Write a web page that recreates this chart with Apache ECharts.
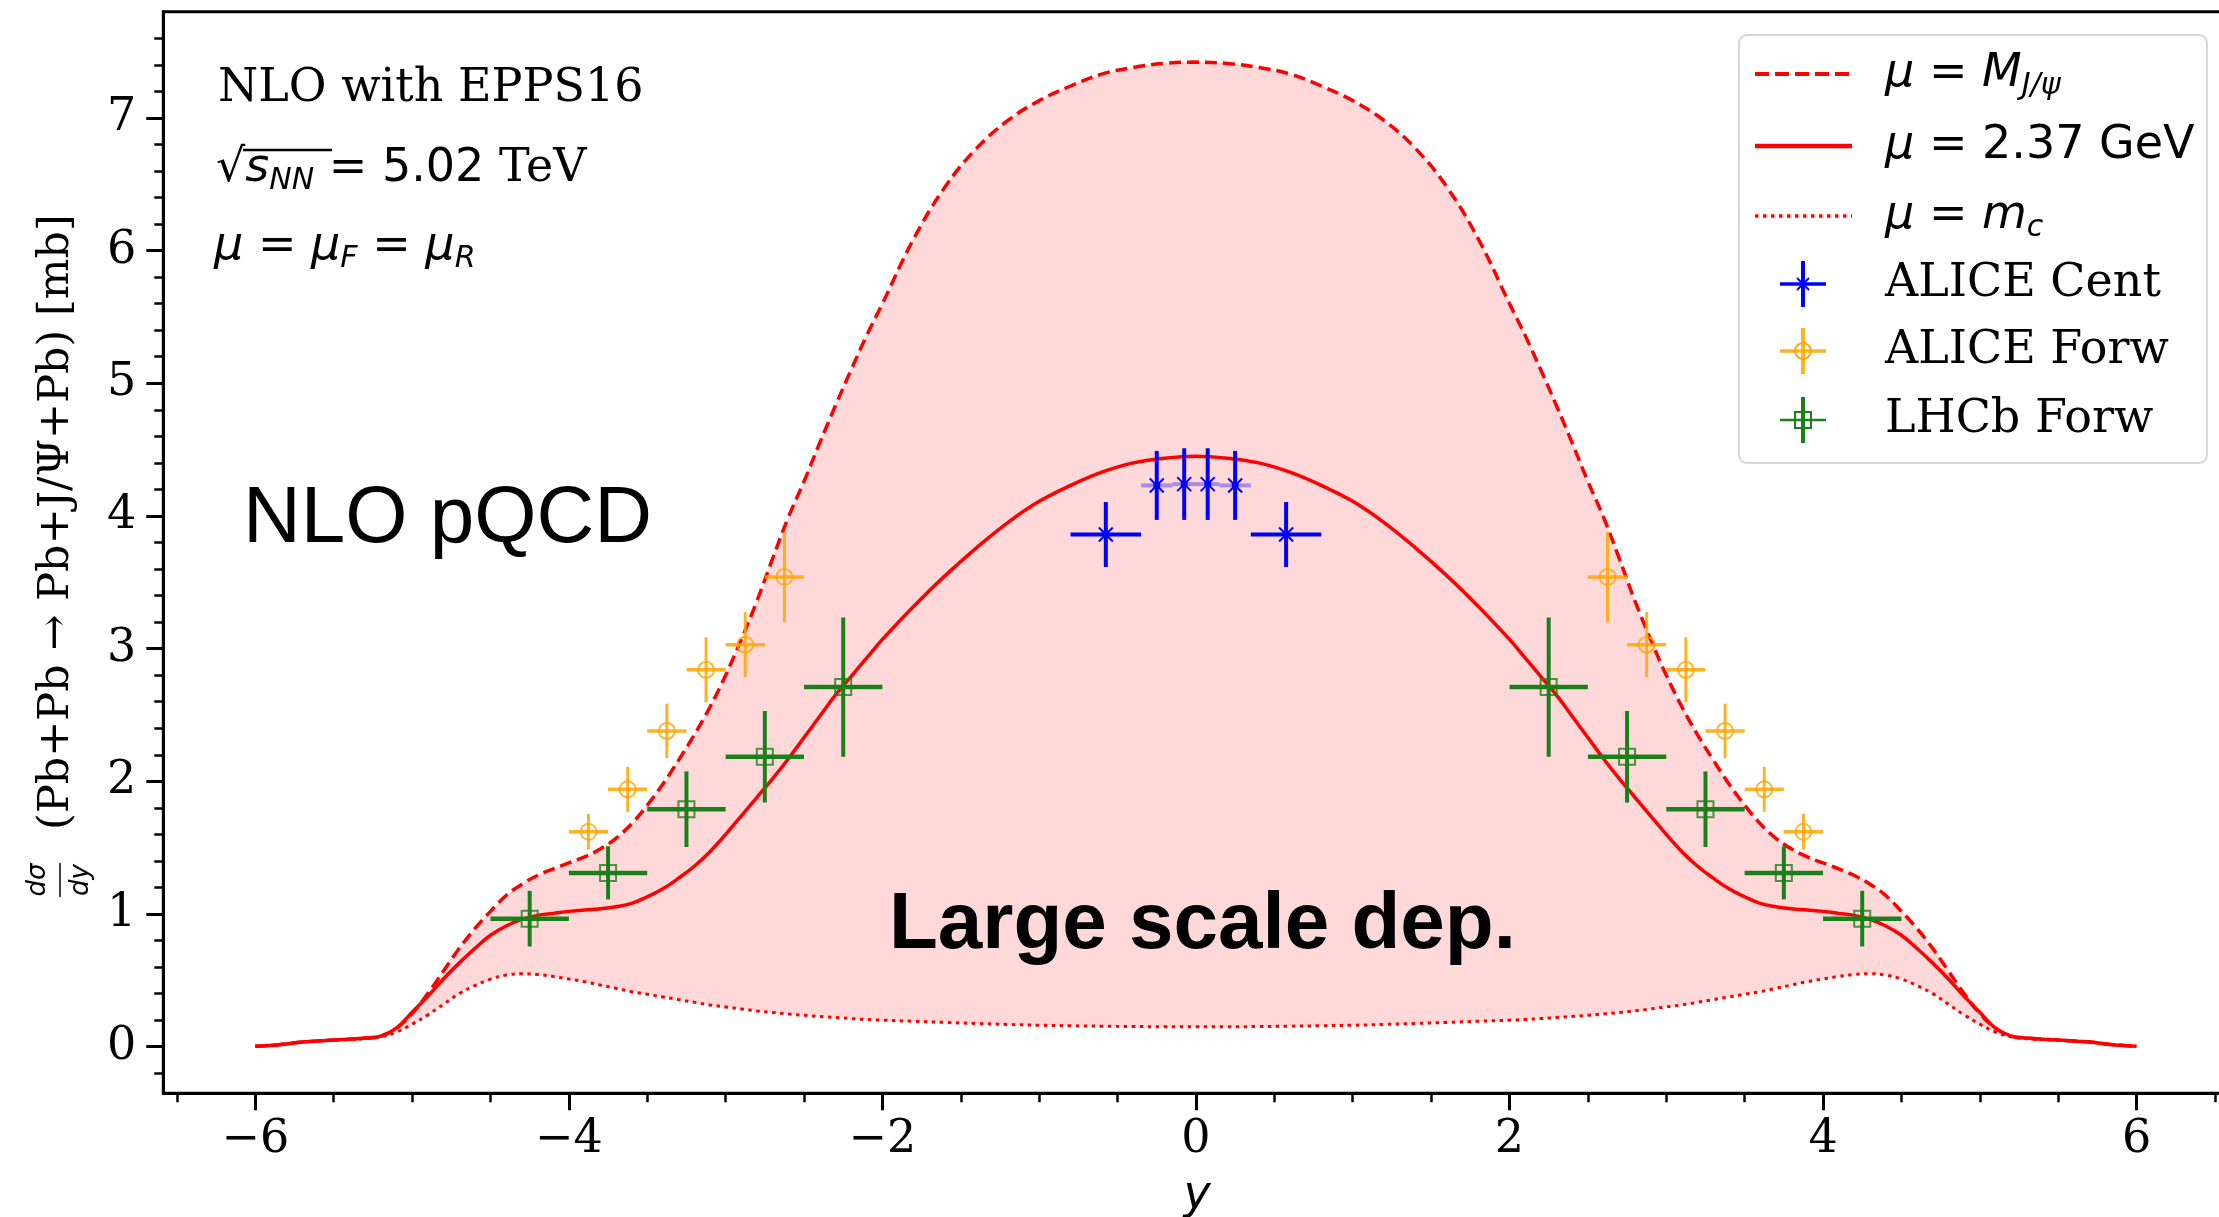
<!DOCTYPE html>
<html><head><meta charset="utf-8">
<script src="https://cdn.jsdelivr.net/npm/echarts@6/dist/echarts.min.js"></script>
<style>html,body{margin:0;padding:0;background:#fff}#c{width:2219px;height:1217px}</style>
</head><body><div id="c"></div>
<script>
// ---------- data ----------
const xGrid = [-6.0,-5.85,-5.7,-5.5,-5.3,-5.2,-5.1,-5.0,-4.9,-4.8,-4.7,-4.6,-4.5,-4.4,-4.3,-4.2,-4.1,-4.0,-3.9,-3.8,-3.7,-3.6,-3.5,-3.4,-3.3,-3.2,-3.1,-3.0,-2.9,-2.8,-2.7,-2.6,-2.5,-2.4,-2.3,-2.2,-2.1,-2.0,-1.8,-1.6,-1.4,-1.2,-1.0,-0.8,-0.6,-0.4,-0.2,0,0.2,0.4,0.6,0.8,1.0,1.2,1.4,1.6,1.8,2.0,2.1,2.2,2.3,2.4,2.5,2.6,2.7,2.8,2.9,3.0,3.1,3.2,3.3,3.4,3.5,3.6,3.7,3.8,3.9,4.0,4.1,4.2,4.3,4.4,4.5,4.6,4.7,4.8,4.9,5.0,5.1,5.2,5.3,5.5,5.7,5.85,6.0];
// mu = M_J/psi (dashed, upper)
const muMJpsi = [0.003,0.015,0.035,0.05,0.065,0.08,0.14,0.25,0.40,0.57,0.74,0.89,1.02,1.14,1.225,1.29,1.34,1.385,1.43,1.49,1.57,1.68,1.82,1.98,2.16,2.35,2.56,2.80,3.07,3.36,3.68,3.99,4.26,4.55,4.83,5.10,5.36,5.60,6.09,6.48,6.77,6.98,7.13,7.24,7.33,7.38,7.41,7.42,7.41,7.38,7.33,7.24,7.13,6.98,6.77,6.48,6.09,5.60,5.36,5.10,4.83,4.55,4.26,3.99,3.68,3.36,3.07,2.80,2.56,2.35,2.16,1.98,1.82,1.68,1.57,1.49,1.43,1.385,1.34,1.29,1.225,1.14,1.02,0.89,0.74,0.57,0.40,0.25,0.14,0.08,0.065,0.05,0.035,0.015,0.003];
// mu = 2.37 GeV (solid)
const mu237 = [0.003,0.015,0.035,0.05,0.065,0.08,0.14,0.26,0.38,0.51,0.63,0.74,0.84,0.91,0.96,0.99,1.005,1.02,1.03,1.04,1.055,1.08,1.13,1.19,1.27,1.36,1.47,1.60,1.74,1.88,2.02,2.17,2.33,2.49,2.65,2.79,2.93,3.07,3.32,3.55,3.76,3.95,4.11,4.23,4.33,4.40,4.435,4.45,4.435,4.40,4.33,4.23,4.11,3.95,3.76,3.55,3.32,3.07,2.93,2.79,2.65,2.49,2.33,2.17,2.02,1.88,1.74,1.60,1.47,1.36,1.27,1.19,1.13,1.08,1.055,1.04,1.03,1.02,1.005,0.99,0.96,0.91,0.84,0.74,0.63,0.51,0.38,0.26,0.14,0.08,0.065,0.05,0.035,0.015,0.003];
// mu = m_c (dotted, lower)
const muMc = [0.003,0.015,0.035,0.05,0.06,0.075,0.11,0.17,0.24,0.32,0.40,0.46,0.51,0.54,0.55,0.545,0.53,0.51,0.49,0.465,0.44,0.415,0.395,0.375,0.355,0.335,0.315,0.30,0.285,0.27,0.258,0.247,0.237,0.228,0.22,0.212,0.205,0.20,0.192,0.183,0.175,0.168,0.162,0.158,0.155,0.152,0.151,0.15,0.151,0.152,0.155,0.158,0.162,0.168,0.175,0.183,0.192,0.20,0.205,0.212,0.22,0.228,0.237,0.247,0.258,0.27,0.285,0.30,0.315,0.335,0.355,0.375,0.395,0.415,0.44,0.465,0.49,0.51,0.53,0.545,0.55,0.54,0.51,0.46,0.40,0.32,0.24,0.17,0.11,0.075,0.06,0.05,0.035,0.015,0.003];

const aliceCentY    = [-0.575,-0.25,-0.075,0.075,0.25,0.575];
const aliceCentVal  = [3.86,4.23,4.24,4.24,4.23,3.86];
const aliceCentXErr = [0.225,0.1,0.075,0.075,0.1,0.225];
const aliceCentYErr = [0.245,0.26,0.27,0.27,0.26,0.245];

const aliceForwY    = [-3.875,-3.625,-3.375,-3.125,-2.875,-2.625,2.625,2.875,3.125,3.375,3.625,3.875];
const aliceForwVal  = [1.62,1.94,2.38,2.84,3.03,3.54,3.54,3.03,2.84,2.38,1.94,1.62];
const aliceForwXErr = [0.125,0.125,0.125,0.125,0.125,0.125,0.125,0.125,0.125,0.125,0.125,0.125];
const aliceForwYErr = [0.135,0.17,0.205,0.245,0.245,0.34,0.34,0.245,0.245,0.205,0.17,0.135];

const lhcbY    = [-4.25,-3.75,-3.25,-2.75,-2.25,2.25,2.75,3.25,3.75,4.25];
const lhcbVal  = [0.965,1.31,1.79,2.185,2.71,2.71,2.185,1.79,1.31,0.965];
const lhcbXErr = [0.25,0.25,0.25,0.25,0.25,0.25,0.25,0.25,0.25,0.25];
const lhcbYErr = [0.21,0.2,0.285,0.345,0.525,0.525,0.345,0.285,0.2,0.21];

const xTicks = [-6,-4,-2,0,2,4,6];
const xMinorTicks = [-6.5,-5.5,-5,-4.5,-3.5,-3,-2.5,-1.5,-1,-0.5,0.5,1,1.5,2.5,3,3.5,4.5,5,5.5,6.5];
const yTicks = [0,1,2,3,4,5,6,7];
const yMinorTicks = [-0.2,0.2,0.4,0.6,0.8,1.2,1.4,1.6,1.8,2.2,2.4,2.6,2.8,3.2,3.4,3.6,3.8,4.2,4.4,4.6,4.8,5.2,5.4,5.6,5.8,6.2,6.4,6.6,6.8,7.2,7.4,7.6];

// ---------- chart ----------
const RED = '#ff0000';
const SERIF = 'DejaVu Serif';
const SANS = 'DejaVu Sans';
const chart = echarts.init(document.getElementById('c'), null, {renderer: 'canvas'});

function pts(arr) { return xGrid.map((x, i) => [x, arr[i]]); }
function errData(xs, ys, xe, ye) { return xs.map((x, i) => [x, ys[i], xe[i], ye[i]]); }

const COL = {cent: '#0000ff', forw: '#ffa500', lhcb: '#1a801a'};

function errRender(kind) {
  return function (params, api) {
    const x = api.value(0), y = api.value(1), xe = api.value(2), ye = api.value(3);
    const c = api.coord([x, y]);
    const l = api.coord([x - xe, y]), r = api.coord([x + xe, y]);
    const t = api.coord([x, y + ye]), b = api.coord([x, y - ye]);
    const ch = [];
    const col = COL[kind];
    let hw, vw, hop = 1, op = 1;
    if (kind === 'cent') { hw = 4; vw = 4; hop = xe < 0.2 ? 0.35 : 1; }
    else if (kind === 'forw') { hw = 3.5; vw = 3; op = 0.85; }
    else { hw = 4.5; vw = 4; }
    ch.push({type: 'line', shape: {x1: l[0], y1: c[1], x2: r[0], y2: c[1]}, style: {stroke: col, lineWidth: hw, opacity: hop * op}});
    ch.push({type: 'line', shape: {x1: c[0], y1: t[1], x2: c[0], y2: b[1]}, style: {stroke: col, lineWidth: vw, opacity: op}});
    if (kind === 'cent') {
      const s = 7;
      ch.push({type: 'line', shape: {x1: c[0] - s, y1: c[1] - s, x2: c[0] + s, y2: c[1] + s}, style: {stroke: col, lineWidth: 2}});
      ch.push({type: 'line', shape: {x1: c[0] - s, y1: c[1] + s, x2: c[0] + s, y2: c[1] - s}, style: {stroke: col, lineWidth: 2}});
      ch.push({type: 'circle', shape: {cx: c[0], cy: c[1], r: 3.5}, style: {fill: col}});
    } else if (kind === 'forw') {
      ch.push({type: 'circle', shape: {cx: c[0], cy: c[1], r: 8}, style: {fill: 'none', stroke: col, lineWidth: 2, opacity: 0.8}});
    } else {
      ch.push({type: 'rect', shape: {x: c[0] - 8, y: c[1] - 8, width: 16, height: 16}, style: {fill: 'none', stroke: col, lineWidth: 2, opacity: 0.8}});
    }
    return {type: 'group', children: ch};
  };
}

const axisFont = {fontFamily: SERIF, fontSize: 46, color: '#000'};
const minusFmt = v => (v < 0 ? '\u2212' : '') + Math.abs(v);

const ZG = 100;
const legendX = 1803, legendTextX = 1885;
const rowY = [74, 146, 216, 284, 351, 420];
function legMarker(kind, cy) {
  const col = COL[kind];
  const op = kind === 'forw' ? 0.85 : 1;
  const out = [
    {type: 'line', z: ZG + 2, shape: {x1: legendX - 23, y1: cy, x2: legendX + 23, y2: cy}, style: {stroke: col, lineWidth: kind === 'lhcb' ? 2.5 : 3.5, opacity: op}},
    {type: 'line', z: ZG + 2, shape: {x1: legendX, y1: cy - 23, x2: legendX, y2: cy + 23}, style: {stroke: col, lineWidth: 4, opacity: op}}
  ];
  if (kind === 'cent') {
    out.push({type: 'line', z: ZG + 2, shape: {x1: legendX - 6, y1: cy - 6, x2: legendX + 6, y2: cy + 6}, style: {stroke: col, lineWidth: 2}});
    out.push({type: 'line', z: ZG + 2, shape: {x1: legendX - 6, y1: cy + 6, x2: legendX + 6, y2: cy - 6}, style: {stroke: col, lineWidth: 2}});
  } else if (kind === 'forw') {
    out.push({type: 'circle', z: ZG + 2, shape: {cx: legendX, cy: cy, r: 8}, style: {fill: 'none', stroke: col, lineWidth: 2}});
  } else {
    out.push({type: 'rect', z: ZG + 2, shape: {x: legendX - 8, y: cy - 8, width: 16, height: 16}, style: {fill: 'none', stroke: col, lineWidth: 2}});
  }
  return out;
}

const mathRich = {
  i: {fontFamily: SANS, fontStyle: 'italic', fontSize: 46, lineHeight: 54},
  n: {fontFamily: SANS, fontSize: 46, lineHeight: 54},
  r: {fontFamily: SERIF, fontSize: 46, lineHeight: 54},
  sub: {fontFamily: SANS, fontStyle: 'italic', fontSize: 30, lineHeight: 26, verticalAlign: 'bottom'}
};

const graphics = [
  // annotation text (top-left)
  {type: 'text', z: ZG, left: 218, top: 66, style: {text: 'NLO with EPPS16', font: '46px "DejaVu Serif"', fill: '#000'}},
  {type: 'text', z: ZG, left: 216, top: 146, style: {text: '{n|\u221A}{i|s}{sub|NN}{n| = 5.02 }{r|TeV}', rich: mathRich, fill: '#000'}},
  {type: 'line', z: ZG, shape: {x1: 243, y1: 150, x2: 332, y2: 150}, style: {stroke: '#000', lineWidth: 2.5}},
  {type: 'text', z: ZG, left: 214, top: 224, style: {text: '{i|\u03BC}{n| = }{i|\u03BC}{sub|F}{n| = }{i|\u03BC}{sub|R}', rich: mathRich, fill: '#000'}},
  {type: 'text', z: ZG, left: 243, top: 480, style: {text: 'NLO pQCD', font: '80px "Liberation Sans"', fill: '#000'}},
  {type: 'text', z: ZG, left: 889, top: 886, style: {text: 'Large scale dep.', font: 'bold 80px "Liberation Sans"', fill: '#000'}},
  // axis titles
  {type: 'text', z: ZG, x: 1197, y: 1196, style: {text: 'y', font: 'italic 46px "DejaVu Sans"', fill: '#000', align: 'center', verticalAlign: 'middle'}},
  {type: 'group', z: ZG, x: 57, y: 552, rotation: Math.PI / 2, children: [
    {type: 'text', z: ZG, x: 30, y: 0, style: {text: '(Pb+Pb \u2192 Pb+J/\u03A8+Pb) [mb]', font: '43px "DejaVu Serif"', fill: '#000', align: 'center', verticalAlign: 'middle'}},
    {type: 'text', z: ZG, x: -328, y: -19, style: {text: 'd\u03C3', font: 'italic 26px "DejaVu Sans"', fill: '#000', align: 'center', verticalAlign: 'middle'}},
    {type: 'line', z: ZG, shape: {x1: -345, y1: 3, x2: -311, y2: 3}, style: {stroke: '#000', lineWidth: 1.5}},
    {type: 'text', z: ZG, x: -328, y: 24, style: {text: 'dy', font: 'italic 26px "DejaVu Sans"', fill: '#000', align: 'center', verticalAlign: 'middle'}}
  ]},
  // legend
  {type: 'rect', z: ZG, shape: {x: 1739, y: 35, width: 468, height: 428, r: 8}, style: {fill: 'rgba(255,255,255,0.85)', stroke: '#d6d6d6', lineWidth: 2}},
  {type: 'line', z: ZG + 2, shape: {x1: 1755, y1: rowY[0], x2: 1852, y2: rowY[0]}, style: {stroke: RED, lineWidth: 4, lineDash: [14, 6]}},
  {type: 'line', z: ZG + 2, shape: {x1: 1755, y1: rowY[1], x2: 1852, y2: rowY[1]}, style: {stroke: RED, lineWidth: 4.5}},
  {type: 'line', z: ZG + 2, shape: {x1: 1755, y1: rowY[2], x2: 1852, y2: rowY[2]}, style: {stroke: RED, lineWidth: 3.5, lineDash: [3.5, 4.5]}}
].concat(legMarker('cent', rowY[3]), legMarker('forw', rowY[4]), legMarker('lhcb', rowY[5]), [
  {type: 'text', z: ZG + 2, x: legendTextX, y: rowY[0], style: {text: '{i|\u03BC}{n| = }{i|M}{sub|J/\u03C8}', rich: mathRich, fill: '#000', verticalAlign: 'middle'}},
  {type: 'text', z: ZG + 2, x: legendTextX, y: rowY[1], style: {text: '{i|\u03BC}{n| = 2.37 GeV}', rich: mathRich, fill: '#000', verticalAlign: 'middle'}},
  {type: 'text', z: ZG + 2, x: legendTextX, y: rowY[2], style: {text: '{i|\u03BC}{n| = }{i|m}{sub|c}', rich: mathRich, fill: '#000', verticalAlign: 'middle'}},
  {type: 'text', z: ZG + 2, x: legendTextX, y: rowY[3], style: {text: 'ALICE Cent', font: '46px "DejaVu Serif"', fill: '#000', verticalAlign: 'middle'}},
  {type: 'text', z: ZG + 2, x: legendTextX, y: rowY[4], style: {text: 'ALICE Forw', font: '46px "DejaVu Serif"', fill: '#000', verticalAlign: 'middle'}},
  {type: 'text', z: ZG + 2, x: legendTextX, y: rowY[5], style: {text: 'LHCb Forw', font: '46px "DejaVu Serif"', fill: '#000', verticalAlign: 'middle'}}
]);

const option = {
  animation: false,
  backgroundColor: '#ffffff',
  grid: {left: 163.3, right: -9.6, top: 11.7, bottom: 123.7, show: true, borderColor: '#000', borderWidth: 3, backgroundColor: 'transparent', outerBoundsMode: 'none'},
  xAxis: [
    {type: 'value', min: -6.587, max: 6.587, position: 'bottom',
     axisLine: {show: true, onZero: false, lineStyle: {color: '#000', width: 3}},
     axisTick: {show: true, length: 17, customValues: xTicks, lineStyle: {color: '#000', width: 3}},
     axisLabel: Object.assign({customValues: xTicks, margin: 24, formatter: minusFmt}, axisFont),
     splitLine: {show: false}},
    {type: 'value', min: -6.587, max: 6.587, position: 'bottom',
     axisLine: {show: false, onZero: false}, axisTick: {show: true, length: 9, customValues: xMinorTicks, lineStyle: {color: '#000', width: 2.5}},
     axisLabel: {show: false}, splitLine: {show: false}}
  ],
  yAxis: [
    {type: 'value', min: -0.351, max: 7.8, position: 'left',
     axisLine: {show: true, onZero: false, lineStyle: {color: '#000', width: 3}},
     axisTick: {show: true, length: 17, customValues: yTicks, lineStyle: {color: '#000', width: 3}},
     axisLabel: Object.assign({customValues: yTicks, margin: 27, formatter: minusFmt}, axisFont),
     splitLine: {show: false}},
    {type: 'value', min: -0.351, max: 7.8, position: 'left',
     axisLine: {show: false, onZero: false}, axisTick: {show: true, length: 9, customValues: yMinorTicks, lineStyle: {color: '#000', width: 2.5}},
     axisLabel: {show: false}, splitLine: {show: false}}
  ],
  series: [
    {type: 'custom', name: 'band', data: [[0, 0]], silent: true, z: 1,
     renderItem: function (params, api) {
       const up = xGrid.map((x, i) => api.coord([x, muMJpsi[i]]));
       const lo = xGrid.map((x, i) => api.coord([x, muMc[i]])).reverse();
       return {type: 'polygon', shape: {points: up.concat(lo), smooth: 0.3}, style: {fill: 'rgba(255,0,0,0.15)'}};
     }},
    {type: 'line', name: 'mu = m_c', data: pts(muMc), showSymbol: false, smooth: 0.4, z: 2,
     lineStyle: {color: RED, width: 3, type: [3.5, 4.5]}},
    {type: 'line', name: 'mu = M_J/psi', data: pts(muMJpsi), showSymbol: false, smooth: 0.4, z: 2,
     lineStyle: {color: RED, width: 3.5, type: [12, 6]}},
    {type: 'line', name: 'mu = 2.37 GeV', data: pts(mu237), showSymbol: false, smooth: 0.4, z: 2,
     lineStyle: {color: RED, width: 3.5}},
    {type: 'custom', name: 'ALICE Forw', data: errData(aliceForwY, aliceForwVal, aliceForwXErr, aliceForwYErr), renderItem: errRender('forw'), z: 3},
    {type: 'custom', name: 'LHCb Forw', data: errData(lhcbY, lhcbVal, lhcbXErr, lhcbYErr), renderItem: errRender('lhcb'), z: 3},
    {type: 'custom', name: 'ALICE Cent', data: errData(aliceCentY, aliceCentVal, aliceCentXErr, aliceCentYErr), renderItem: errRender('cent'), z: 3}
  ],
  graphic: graphics
};
chart.setOption(option);
</script>
</body></html>
